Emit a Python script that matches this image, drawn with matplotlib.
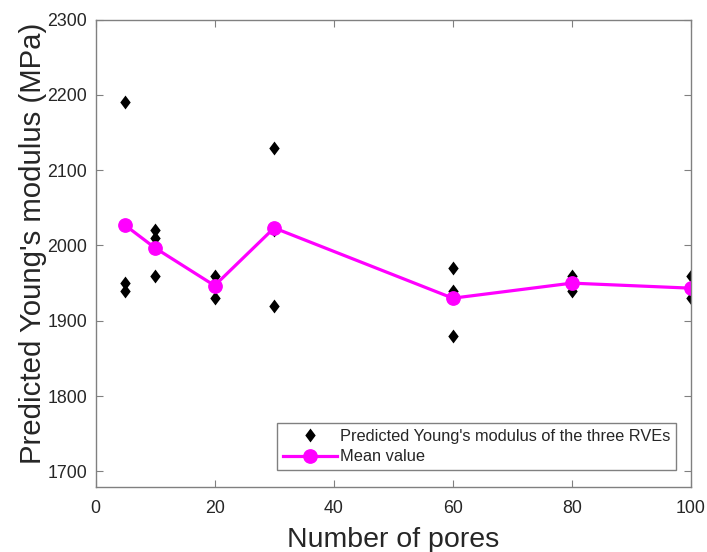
import matplotlib
matplotlib.use("Agg")
import matplotlib.pyplot as plt

plt.rcParams['font.family'] = ['Liberation Sans', 'DejaVu Sans']

pores = [5, 10, 20, 30, 60, 80, 100]
rve1 = [2190, 2020, 1960, 2130, 1970, 1960, 1960]
rve2 = [1950, 2010, 1950, 2020, 1940, 1950, 1940]
rve3 = [1940, 1960, 1930, 1920, 1880, 1940, 1930]
mean_vals = [2026.7, 1996.7, 1946.7, 2023.3, 1930.0, 1950.0, 1943.3]

xticks = [0, 20, 40, 60, 80, 100]
yticks = [1700, 1800, 1900, 2000, 2100, 2200, 2300]

fig = plt.figure(figsize=(7.07, 5.52), dpi=100)
ax = fig.add_axes([95.5/707, 1-486.5/552, (691-95.5)/707, (486.5-19.5)/552])

diamond = [(0, 1), (0.75, 0), (0, -1), (-0.75, 0), (0, 1)]

xs = pores * 3
ys = rve1 + rve2 + rve3
ax.plot(xs, ys, linestyle='none', marker=diamond, color='black', markersize=10,
        markeredgewidth=0, label="Predicted Young's modulus of the three RVEs")
ax.plot(pores, mean_vals, color='#ff00ff', linewidth=2.3, marker='o',
        markersize=9.6, label='Mean value')

ax.set_xlim(0, 100)
ax.set_ylim(1680, 2300)
ax.set_xticks(xticks)
ax.set_yticks(yticks)
ax.tick_params(direction='in', length=5, width=0.8, colors='#808080',
               labelcolor='#262626', labelsize=12.8, top=True, right=True)
ax.tick_params(axis='x', pad=10)
ax.tick_params(axis='y', pad=6)
for s in ax.spines.values():
    s.set_color('#808080')
    s.set_linewidth(1.0)

ax.set_xlabel('Number of pores', fontsize=20.5, color='#262626', labelpad=7)
ax.set_ylabel("Predicted Young's modulus (MPa)", fontsize=21.2, color='#262626')
ax.yaxis.set_label_coords(-0.082, 0.521)

leg = ax.legend(loc='lower right', fontsize=11.8, fancybox=False, framealpha=1,
                edgecolor='#808080', handlelength=3.3, handletextpad=0.2,
                borderaxespad=0.0, bbox_to_anchor=(676/707, 1-470/552),
                bbox_transform=fig.transFigure, labelspacing=0.35, borderpad=0.35)
leg.get_frame().set_linewidth(1.0)
for t in leg.get_texts():
    t.set_color('#262626')

fig.savefig('out.png', dpi=100)
